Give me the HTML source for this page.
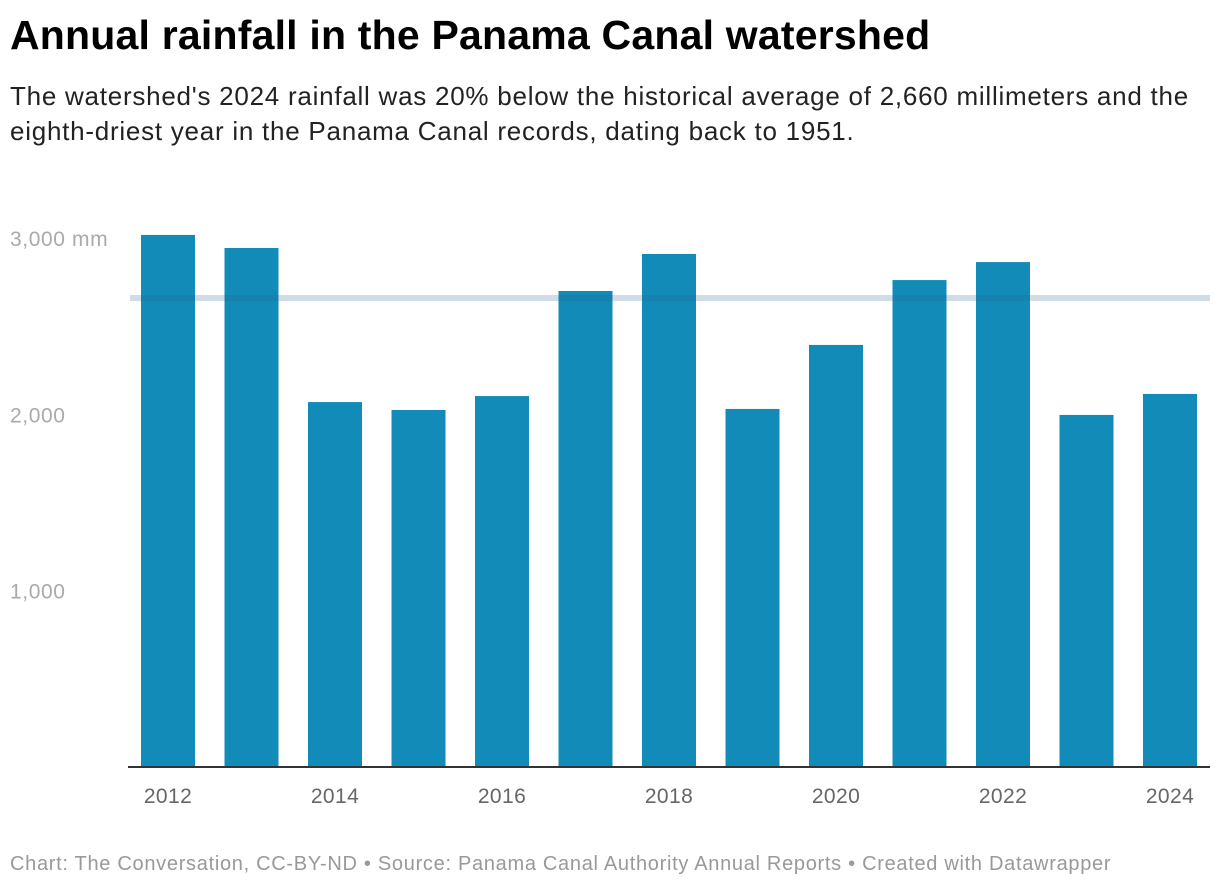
<!DOCTYPE html>
<html><head><meta charset="utf-8"><style>
body{margin:0;background:#fff;width:1220px;height:890px;overflow:hidden;font-family:"Liberation Sans",sans-serif}
#title{position:absolute;left:10px;top:12px;font-size:41px;font-weight:bold;color:#000;margin:0;letter-spacing:0.2px;white-space:nowrap}
#sub{position:absolute;left:10px;top:79px;font-size:26px;line-height:35px;color:#222;width:1205px;letter-spacing:0.75px}
#foot{position:absolute;left:10px;top:853px;font-size:20px;color:#999;letter-spacing:0.7px;white-space:nowrap}
svg{position:absolute;left:0;top:0}
</style></head><body>
<h1 id="title">Annual rainfall in the Panama Canal watershed</h1>
<div id="sub">The watershed's 2024 rainfall was 20% below the historical average of 2,660 millimeters and the eighth-driest year in the Panama Canal records, dating back to 1951.</div>
<svg id="chart" width="1220" height="890"></svg>
<div id="foot">Chart: The Conversation, CC-BY-ND • Source: Panama Canal Authority Annual Reports • Created with Datawrapper</div>
<script>
const years=[2012,2013,2014,2015,2016,2017,2018,2019,2020,2021,2022,2023,2024];
const rainfall=[3018,2944,2070,2025,2104,2700,2910,2031,2394,2762,2864,1997,2116];
const yTicks=[1000,2000,3000];
const yTickLabels=["1,000","2,000","3,000 mm"];
const xLabelYears=[2012,2014,2016,2018,2020,2022,2024];
const average=[2660];
const NS="http://www.w3.org/2000/svg";
const svg=document.getElementById('chart');
const y0=767,pxPer=0.1763;
const yS=v=>y0-v*pxPer;
const xS=i=>141+i*83.5;
const bw=54;
function mk(t,a){const e=document.createElementNS(NS,t);for(const k in a)e.setAttribute(k,a[k]);svg.appendChild(e);return e;}
yTicks.forEach((t,i)=>{
 const e=mk('text',{x:10,y:yS(t)+8,'font-size':21,'letter-spacing':0.6,fill:'#aaa','font-family':'Liberation Sans, sans-serif'});
 e.textContent=yTickLabels[i];
 
 
});
rainfall.forEach((v,i)=>{
 const r=mk('rect',{x:xS(i),y:yS(v),width:bw,height:y0-yS(v),fill:'#138bb8'});
 
 
});
average.forEach(v=>{
 const l=mk('rect',{x:130,y:yS(v)-3,width:1080,height:6,fill:'rgba(40,100,140,0.22)'});
 
 
});
const ax=mk('rect',{x:128,y:y0-1,width:1082,height:2,fill:'#333'});


xLabelYears.forEach(yr=>{
 const i=years.indexOf(yr);
 const t=mk('text',{x:xS(i)+bw/2,y:803,'font-size':21,'letter-spacing':0.4,fill:'#666','text-anchor':'middle','font-family':'Liberation Sans, sans-serif'});
 t.textContent=yr;
 
 
});
</script>
</body></html>
